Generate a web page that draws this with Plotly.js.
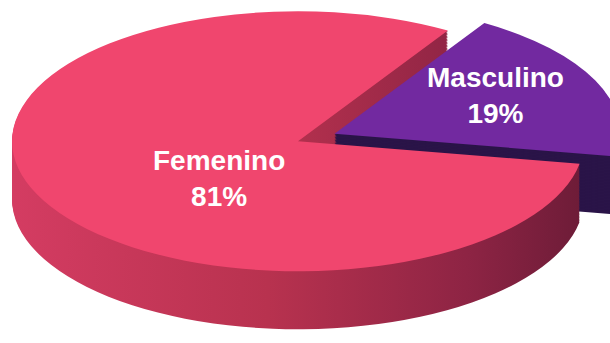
<!DOCTYPE html>
<html>
<head>
<meta charset="utf-8">
<script src="https://cdn.plot.ly/plotly-3.0.1.min.js"></script>
<style>
  html, body { margin: 0; padding: 0; background: #ffffff; }
  #wrap { position: relative; width: 610px; height: 343px; overflow: hidden; background: #ffffff; }
  #pie { position: absolute; transform-origin: 0 0; }
  #labels { position: absolute; left: 0; top: 0; width: 610px; height: 343px; }
</style>
</head>
<body>
<div id="wrap">
  <div id="pie"></div>
  <div id="labels"></div>
</div>
<script>
// ---- data ----
const labels = ['Femenino', 'Masculino'];
const values = [81, 19];
const topColors = ['#F0466E', '#7229A0'];
const sideColors = ['#B3304F', '#2A1448'];
const pulls = [0, 0.14];

// ---- geometry of the tilted pie ----
const cx = 298, cy = 141;      // centre of the top face on the page
const Rx = 286;                // horizontal radius (px)
const tilt = 130 / 286;        // vertical squash of the disc
const depth = 58;              // thickness of the disc (px on page)
const maxPull = Math.max.apply(null, pulls);
const box = Math.round(2 * Rx * (1 + maxPull));
const Hd = box + depth / tilt;

function pieTrace(offset, colors) {
  let y1 = 1 - (offset / tilt) / Hd;
  let y0 = Math.max(0, y1 - box / Hd);
  return {
    type: 'pie',
    labels: labels,
    values: values,
    sort: false,
    direction: 'clockwise',
    rotation: 100,
    pull: pulls,
    marker: { colors: colors, line: { width: 0 } },
    textinfo: 'none',
    hoverinfo: 'skip',
    showlegend: false,
    domain: { x: [0, 1], y: [y0, y1] }
  };
}

const traces = [];
for (let d = depth; d > 0; d -= 1.5) traces.push(pieTrace(d, sideColors));
traces.push(pieTrace(0, topColors));

const pieDiv = document.getElementById('pie');
pieDiv.style.left = (cx - box / 2) + 'px';
pieDiv.style.top = (cy - (box / 2) * tilt) + 'px';
pieDiv.style.transform = 'scaleY(' + tilt + ')';

Plotly.newPlot(pieDiv, traces, {
  width: box, height: Hd,
  margin: { l: 0, r: 0, t: 0, b: 0 },
  paper_bgcolor: 'rgba(0,0,0,0)', plot_bgcolor: 'rgba(0,0,0,0)',
  showlegend: false
}, { staticPlot: true, displayModeBar: false }).then(function () {
  // horizontal shading on the pink side wall
  const svg = pieDiv.querySelector('svg.main-svg');
  const ns = 'http://www.w3.org/2000/svg';
  const defs = document.createElementNS(ns, 'defs');
  const grad = document.createElementNS(ns, 'linearGradient');
  grad.setAttribute('id', 'sideGrad');
  grad.setAttribute('x1', '0'); grad.setAttribute('x2', '1');
  grad.setAttribute('y1', '0'); grad.setAttribute('y2', '0');
  [['0', '#D43C62'], ['0.45', '#B8324F'], ['0.8', '#8E2444'], ['1', '#6E1C38']].forEach(function (s) {
    const st = document.createElementNS(ns, 'stop');
    st.setAttribute('offset', s[0]);
    st.setAttribute('stop-color', s[1]);
    grad.appendChild(st);
  });
  defs.appendChild(grad);
  svg.insertBefore(defs, svg.firstChild);
  const groups = pieDiv.querySelectorAll('.pielayer .trace');
  for (let i = 0; i < groups.length - 1; i++) {
    const p = groups[i].querySelector('.slice path.surface');
    if (p) p.style.fill = 'url(#sideGrad)';
  }
});

// ---- labels ----
const total = values.reduce((a, b) => a + b, 0);
const labelPos = [[219, 178], [495, 95]];
const annotations = labels.map((lab, i) => ({
  text: lab + '<br>' + Math.round(values[i] / total * 100) + '%',
  xref: 'paper', yref: 'paper',
  x: labelPos[i][0] / 610, y: 1 - labelPos[i][1] / 343,
  xanchor: 'center', yanchor: 'middle',
  showarrow: false,
  font: { family: 'Liberation Sans, Arial, sans-serif', size: 28, color: '#ffffff', weight: 'bold' }
}));

Plotly.newPlot('labels', [], {
  width: 610, height: 343,
  margin: { l: 0, r: 0, t: 0, b: 0 },
  paper_bgcolor: 'rgba(0,0,0,0)', plot_bgcolor: 'rgba(0,0,0,0)',
  xaxis: { visible: false }, yaxis: { visible: false },
  annotations: annotations
}, { staticPlot: true, displayModeBar: false });
</script>
</body>
</html>
